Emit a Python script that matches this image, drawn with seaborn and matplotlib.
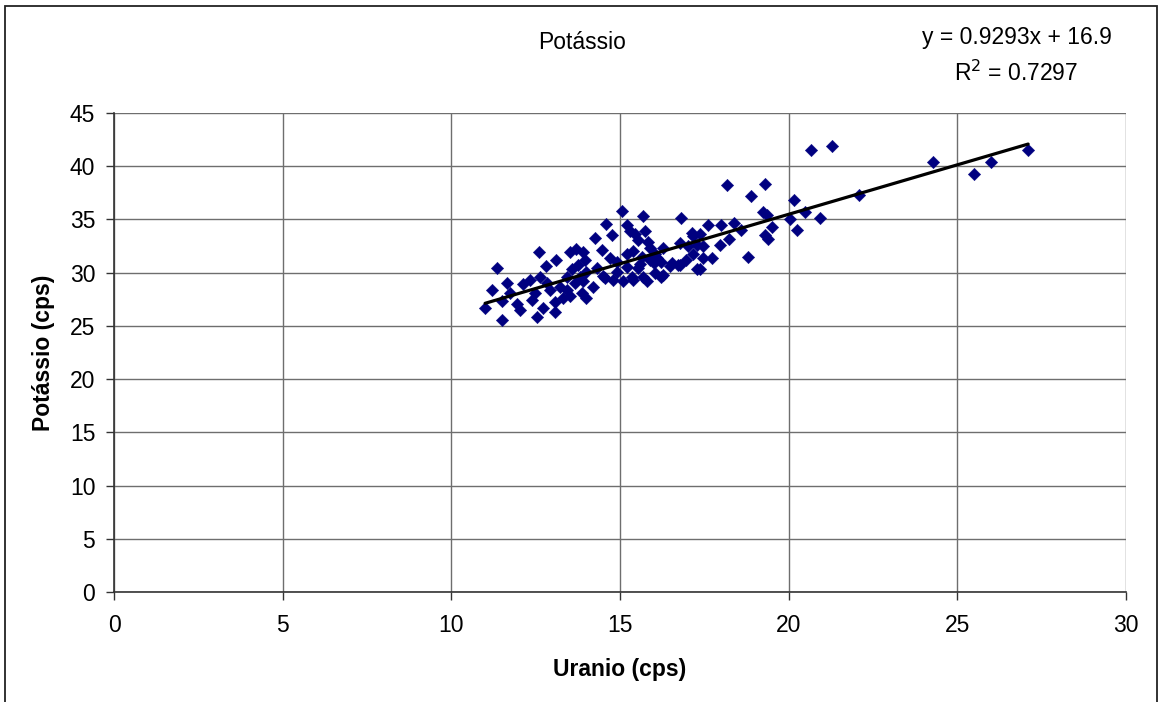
import matplotlib
matplotlib.use("Agg")
import matplotlib.pyplot as plt
import numpy as np
import pandas as pd
import seaborn as sns
from matplotlib.patches import Rectangle

# Gamma-spectrometry counts: uranium vs potassium channel (cps)
uranio = [
    11.34, 12.61, 13.10, 12.80, 13.52, 13.70, 13.90, 11.20, 11.00, 11.50,
    12.53, 11.64, 11.74, 11.50, 11.94, 12.04, 12.13, 12.33, 12.63, 12.83,
    12.93, 12.73, 13.07, 13.07, 12.38, 12.48, 13.22, 13.42, 13.42, 13.57,
    13.76, 13.82, 13.67, 13.91, 13.86, 14.00, 13.52, 13.30, 13.96, 14.00,
    15.05, 15.69, 16.81, 14.59, 15.20, 14.26, 14.75, 15.30, 15.45, 15.74,
    15.54, 15.84, 15.89, 16.28, 17.12, 16.78, 14.46, 14.70, 14.90, 15.20,
    15.39, 15.64, 16.04, 16.23, 16.53, 16.78, 16.97, 17.27, 14.31, 14.56,
    14.80, 15.10, 15.35, 15.54, 15.69, 15.80, 15.40, 16.04, 16.23, 16.48,
    14.20, 18.18, 19.30, 18.89, 20.16, 20.49, 19.25, 19.35, 20.03, 20.26,
    17.62, 17.99, 18.38, 18.60, 18.24, 17.96, 19.50, 19.30, 19.40, 18.80,
    17.37, 17.72, 17.47, 17.17, 17.37, 17.27, 17.47, 17.17, 21.28, 24.27,
    22.10, 25.48, 26.00, 27.10, 20.94, 20.66, 17.03, 16.73, 16.28, 16.00,
    14.50, 15.60, 15.90, 16.10, 14.90, 15.20,
]
potassio = [
    30.4, 31.9, 31.2, 30.6, 31.9, 32.2, 31.9, 28.4, 26.7, 25.6,
    25.8, 29.0, 28.1, 27.3, 27.1, 26.5, 28.9, 29.3, 29.6, 29.0,
    28.4, 26.7, 27.2, 26.3, 27.4, 28.1, 28.7, 28.4, 29.6, 30.3,
    30.7, 29.6, 29.0, 29.2, 28.1, 27.6, 27.8, 27.6, 31.2, 30.1,
    35.8, 35.3, 35.1, 34.6, 34.5, 33.3, 33.5, 33.9, 33.6, 33.9,
    33.1, 32.9, 32.3, 32.3, 33.7, 32.8, 32.1, 31.4, 31.0, 31.8,
    32.0, 31.5, 31.8, 31.0, 30.9, 30.7, 31.2, 30.3, 30.4, 29.5,
    29.3, 29.2, 29.6, 30.4, 29.6, 29.2, 29.3, 30.0, 29.6, 30.6,
    28.7, 38.2, 38.3, 37.2, 36.8, 35.7, 35.7, 35.4, 35.0, 34.0,
    34.5, 34.5, 34.7, 34.0, 33.2, 32.6, 34.3, 33.5, 33.2, 31.5,
    30.3, 31.4, 31.4, 33.4, 33.6, 32.6, 32.5, 31.8, 41.9, 40.4,
    37.3, 39.3, 40.4, 41.5, 35.1, 41.5, 32.5, 30.7, 29.8, 30.9,
    29.7, 30.8, 31.2, 31.4, 30.1, 30.5,
]

# Linear trend reported on the chart
slope = 0.9293
intercept = 16.9
r_squared = 0.7297

x_ticks = [0, 5, 10, 15, 20, 25, 30]
y_ticks = [0, 5, 10, 15, 20, 25, 30, 35, 40, 45]

df = pd.DataFrame({"Uranio": uranio, "Potassio": potassio})
x_fit = np.array([df["Uranio"].min(), df["Uranio"].max()])
fit = pd.DataFrame({"x": x_fit, "y": slope * x_fit + intercept})

sns.set_theme(style="white")
plt.rcParams["font.family"] = ["Liberation Sans", "DejaVu Sans"]
plt.rcParams["text.color"] = "black"
plt.rcParams["axes.labelcolor"] = "black"
plt.rcParams["xtick.color"] = "black"
plt.rcParams["ytick.color"] = "black"

FS = 16.5

fig = plt.figure(figsize=(11.59, 7.02), dpi=100)
ax = fig.add_axes([0.0984, 0.1567, 0.8731, 0.6823])

grid_col = "#6e6e6e"
ax.set_axisbelow(True)
for v in x_ticks:
    ax.axvline(v, color=grid_col, lw=1.0, zorder=0)
for v in y_ticks:
    ax.axhline(v, color=grid_col, lw=1.0, zorder=0)

sns.scatterplot(data=df, x="Uranio", y="Potassio", marker="D", s=40,
                color="#000080", edgecolor="#000080", linewidth=0.3,
                ax=ax, zorder=3)
sns.lineplot(data=fit, x="x", y="y", color="black", lw=2.3, ax=ax, zorder=4)

ax.set_xlim(0, 30)
ax.set_ylim(0, 45)
ax.set_xticks(x_ticks)
ax.set_yticks(y_ticks)
ax.tick_params(axis="both", which="major", labelsize=FS, direction="out",
               length=6, width=1, color="#333333", left=True, bottom=True)
ax.tick_params(axis="x", pad=10)
ax.tick_params(axis="y", pad=7.5)

for side in ("top", "right"):
    ax.spines[side].set_visible(False)
for side in ("left", "bottom"):
    ax.spines[side].set_color("#333333")
    ax.spines[side].set_linewidth(1.2)

ax.set_xlabel("Uranio (cps)", fontsize=FS, fontweight="bold", labelpad=15)
ax.set_ylabel("Potássio (cps)", fontsize=FS, fontweight="bold", labelpad=11)

fig.text(0.502, 0.94, "Potássio", ha="center", va="center", fontsize=FS)
fig.text(0.877, 0.947, f"y = {slope}x + {intercept}", ha="center",
         va="center", fontsize=FS)
fig.text(0.877, 0.896, f"R$^2$ = {r_squared}", ha="center", va="center",
         fontsize=FS)

# frame around the chart area
fig.patches.append(Rectangle((0.0043, -0.02), 0.9940, 1.0115,
                             transform=fig.transFigure, fill=False,
                             edgecolor="#222222", lw=1.3))

fig.savefig("out.png", dpi=100)
